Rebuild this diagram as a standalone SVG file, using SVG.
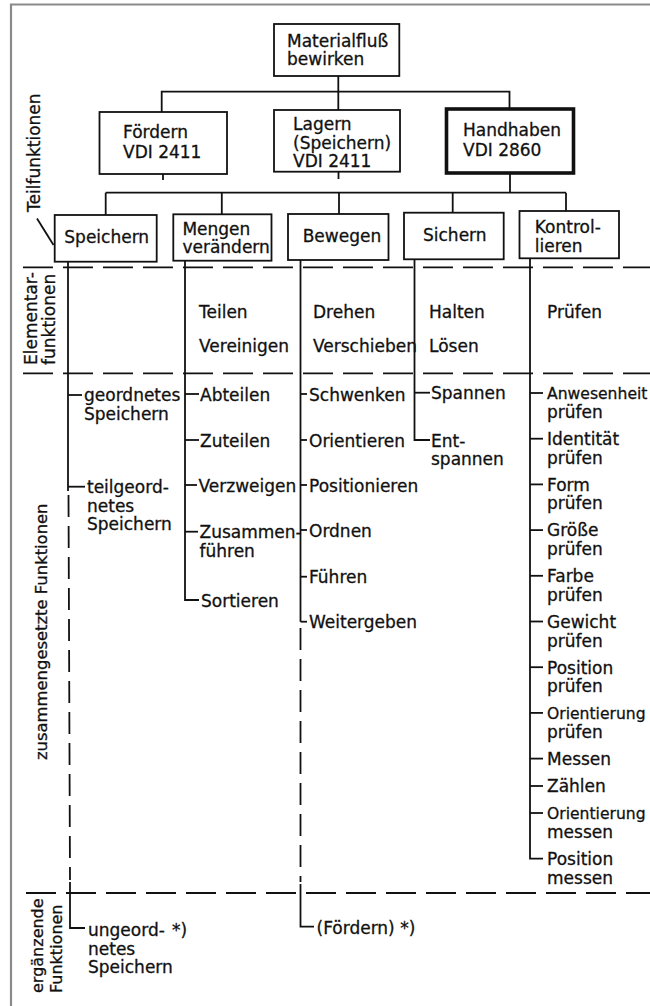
<svg xmlns="http://www.w3.org/2000/svg" width="650" height="1006" viewBox="0 0 650 1006">
  <style>
    text { font-family: "DejaVu Sans", "Liberation Sans", sans-serif; font-size: 17px; fill: #111; stroke: #111; stroke-width: 0.3; }
    .box { fill: #fff; stroke: #111; stroke-width: 1.8; }
    .thick { stroke-width: 3.6; }
    .ln { fill: none; stroke: #111; stroke-width: 1.8; }
    .dh { fill: none; stroke: #111; stroke-width: 1.8; stroke-dasharray: 30 10; }
    .dv { fill: none; stroke: #111; stroke-width: 1.8; stroke-dasharray: 22 9; }
    .frame { fill: none; stroke: #8a8a8a; stroke-width: 2.2; }
    .side { font-size: 17px; }
    .long { font-size: 15.6px; }
  </style>

  <rect width="650" height="1006" fill="#fff"/>
  <path class="frame" d="M11,1006 V4.5 H650"/>

  <!-- zone separators -->
  <g id="zones">
    <line class="dh" x1="23" y1="267.3" x2="650" y2="267.3"/>
    <line class="dh" x1="23" y1="373.3" x2="650" y2="373.3"/>
    <line class="dh" x1="26" y1="893" x2="650" y2="893"/>
  </g>

  <!-- row labels -->
  <g id="row-labels">
    <text class="side" transform="translate(39.5,212) rotate(-90)">Teilfunktionen</text>
    <line class="ln" x1="37" y1="218.5" x2="53.5" y2="245" stroke-width="1.4"/>
    <text class="side" transform="translate(37.3,365) rotate(-90)">Elementar-</text>
    <text class="side" transform="translate(55,365) rotate(-90)">funktionen</text>
    <text class="side" style="font-size:16.4px" transform="translate(46.7,760) rotate(-90)">zusammengesetzte Funktionen</text>
    <text class="side" style="font-size:16px" transform="translate(42.7,993) rotate(-90)">ergänzende</text>
    <text class="side" style="font-size:16px" transform="translate(61.7,993) rotate(-90)">Funktionen</text>
  </g>

  <!-- connectors -->
  <g id="connectors">
    <!-- tree -->
    <line class="ln" x1="338.3" y1="76" x2="338.3" y2="110"/>
    <path class="ln" d="M161.7,112 V91.7 H509.5 V109"/>
    <line class="ln" x1="163" y1="174" x2="163" y2="180"/>
    <line class="ln" x1="338.5" y1="171.7" x2="338.5" y2="179"/>
    <line class="ln" x1="510" y1="173" x2="510" y2="192.7"/>
    <line class="ln" x1="105.7" y1="192.7" x2="566" y2="192.7"/>
    <line class="ln" x1="105.7" y1="192.7" x2="105.7" y2="215"/>
    <line class="ln" x1="221.8" y1="192.7" x2="221.8" y2="214.3"/>
    <line class="ln" x1="339" y1="192.7" x2="339" y2="214"/>
    <line class="ln" x1="452.7" y1="192.7" x2="452.7" y2="212.7"/>
    <line class="ln" x1="566" y1="192.7" x2="566" y2="211"/>

    <!-- Speichern column -->
    <line class="ln" x1="68" y1="261.7" x2="68" y2="491"/>
    <line class="ln" x1="68" y1="395" x2="82" y2="395"/>
    <line class="ln" x1="68" y1="486.7" x2="85" y2="486.7"/>
    <line class="dv" x1="68.5" y1="495" x2="70" y2="880"/>
    <path class="ln" d="M70,882 V928 H85"/>

    <!-- Mengen verändern column -->
    <path class="ln" d="M185,260.7 V600 H199"/>
    <line class="ln" x1="185" y1="394" x2="199" y2="394"/>
    <line class="ln" x1="185" y1="440" x2="199" y2="440"/>
    <line class="ln" x1="185" y1="485" x2="197" y2="485"/>
    <line class="ln" x1="185" y1="531.7" x2="198" y2="531.7"/>

    <!-- Bewegen column -->
    <line class="ln" x1="300.5" y1="260" x2="300.5" y2="621.7"/>
    <line class="ln" x1="300.5" y1="394" x2="307" y2="394"/>
    <line class="ln" x1="300.5" y1="440" x2="307" y2="440"/>
    <line class="ln" x1="300.5" y1="485" x2="307" y2="485"/>
    <line class="ln" x1="300.5" y1="530" x2="307" y2="530"/>
    <line class="ln" x1="300.5" y1="576.7" x2="307" y2="576.7"/>
    <line class="ln" x1="300.5" y1="621.7" x2="307" y2="621.7"/>
    <line class="dv" x1="300.5" y1="628" x2="300.5" y2="882"/>
    <path class="ln" d="M300.5,884 V926.7 H314"/>

    <!-- Sichern column -->
    <path class="ln" d="M414.5,259.3 V440 H430"/>
    <line class="ln" x1="414.5" y1="392.7" x2="430" y2="392.7"/>

    <!-- Kontrollieren column -->
    <path class="ln" d="M530,258.3 V858.7 H543"/>
    <line class="ln" x1="530" y1="393" x2="543" y2="393"/>
    <line class="ln" x1="530" y1="438.7" x2="543" y2="438.7"/>
    <line class="ln" x1="530" y1="484.4" x2="543" y2="484.4"/>
    <line class="ln" x1="530" y1="530.1" x2="543" y2="530.1"/>
    <line class="ln" x1="530" y1="575.8" x2="543" y2="575.8"/>
    <line class="ln" x1="530" y1="621.5" x2="543" y2="621.5"/>
    <line class="ln" x1="530" y1="667.2" x2="543" y2="667.2"/>
    <line class="ln" x1="530" y1="712.9" x2="543" y2="712.9"/>
    <line class="ln" x1="530" y1="758.6" x2="543" y2="758.6"/>
    <line class="ln" x1="530" y1="786" x2="543" y2="786"/>
    <line class="ln" x1="530" y1="813" x2="543" y2="813"/>
  </g>

  <!-- main function -->
  <g id="materialfluss">
    <rect class="box" x="274" y="24" width="125.3" height="52"/>
    <text x="287" y="46.7">Materialfluß<tspan x="287" dy="18.3">bewirken</tspan></text>
  </g>

  <!-- sub-functions -->
  <g id="foerdern">
    <rect class="box" x="99.5" y="112" width="127.5" height="62"/>
    <text x="123" y="138">Fördern<tspan x="123" dy="20">VDI 2411</tspan></text>
  </g>
  <g id="lagern">
    <rect class="box" x="274" y="110" width="126" height="61.7"/>
    <text x="293" y="130">Lagern<tspan x="293" dy="18.5">(Speichern)</tspan><tspan x="293" dy="18.5">VDI 2411</tspan></text>
  </g>
  <g id="handhaben">
    <rect class="box thick" x="446.5" y="109" width="127" height="64"/>
    <text x="463" y="136">Handhaben<tspan x="463" dy="20">VDI 2860</tspan></text>
  </g>

  <!-- handling functions -->
  <g id="speichern">
    <rect class="box" x="54.7" y="215" width="102" height="46.7"/>
    <text x="64.3" y="243">Speichern</text>
  </g>
  <g id="mengen-veraendern">
    <rect class="box" x="173.3" y="214.3" width="98.2" height="46.4"/>
    <text x="182.4" y="234.5">Mengen<tspan x="182.4" dy="18.7">verändern</tspan></text>
  </g>
  <g id="bewegen">
    <rect class="box" x="288" y="214" width="100.5" height="46"/>
    <text x="302.7" y="242">Bewegen</text>
  </g>
  <g id="sichern">
    <rect class="box" x="404" y="212.7" width="99.7" height="46.6"/>
    <text x="423" y="241">Sichern</text>
  </g>
  <g id="kontrollieren">
    <rect class="box" x="519.5" y="211" width="99.5" height="47.3"/>
    <text x="534.8" y="232.7">Kontrol-<tspan x="534.8" dy="19">lieren</tspan></text>
  </g>

  <!-- elementary functions -->
  <g id="elementar-mengen">
    <text x="199" y="318">Teilen<tspan x="199" dy="33.5">Vereinigen</tspan></text>
  </g>
  <g id="elementar-bewegen">
    <text x="313" y="318">Drehen<tspan x="313" dy="33.5">Verschieben</tspan></text>
  </g>
  <g id="elementar-sichern">
    <text x="429" y="318">Halten<tspan x="429" dy="33.5">Lösen</tspan></text>
  </g>
  <g id="elementar-kontrollieren">
    <text x="547" y="318">Prüfen</text>
  </g>

  <!-- composite functions: Speichern -->
  <g id="geordnetes-speichern">
    <text x="84" y="401">geordnetes<tspan x="84" dy="18.5">Speichern</tspan></text>
  </g>
  <g id="teilgeordnetes-speichern">
    <text x="87" y="493">teilgeord-<tspan x="87" dy="18.5">netes</tspan><tspan x="87" dy="18.5">Speichern</tspan></text>
  </g>

  <!-- composite functions: Mengen verändern -->
  <g id="abteilen"><text x="200" y="400.5">Abteilen</text></g>
  <g id="zuteilen"><text x="200" y="446.5">Zuteilen</text></g>
  <g id="verzweigen"><text x="198.5" y="491.5">Verzweigen</text></g>
  <g id="zusammenfuehren"><text x="199.5" y="538">Zusammen-<tspan x="199.5" dy="18.5">führen</tspan></text></g>
  <g id="sortieren"><text x="201" y="606.5">Sortieren</text></g>

  <!-- composite functions: Bewegen -->
  <g id="schwenken"><text x="309" y="400.5">Schwenken</text></g>
  <g id="orientieren"><text x="309" y="446.5">Orientieren</text></g>
  <g id="positionieren"><text x="309" y="491.5">Positionieren</text></g>
  <g id="ordnen"><text x="309" y="536.5">Ordnen</text></g>
  <g id="fuehren"><text x="309" y="583">Führen</text></g>
  <g id="weitergeben"><text x="309" y="628">Weitergeben</text></g>

  <!-- composite functions: Sichern -->
  <g id="spannen"><text x="431" y="399">Spannen</text></g>
  <g id="entspannen"><text x="431" y="446.5">Ent-<tspan x="431" dy="18.5">spannen</tspan></text></g>

  <!-- composite functions: Kontrollieren (long words set a little smaller to stay on the sheet) -->
  <g id="anwesenheit"><text x="547" y="399.3"><tspan class="long">Anwesenheit</tspan><tspan x="547" dy="18.7">prüfen</tspan></text></g>
  <g id="identitaet"><text x="547" y="445">Identität<tspan x="547" dy="18.7">prüfen</tspan></text></g>
  <g id="form"><text x="547" y="490.7">Form<tspan x="547" dy="18.7">prüfen</tspan></text></g>
  <g id="groesse"><text x="547" y="536.4">Größe<tspan x="547" dy="18.7">prüfen</tspan></text></g>
  <g id="farbe"><text x="547" y="582.1">Farbe<tspan x="547" dy="18.7">prüfen</tspan></text></g>
  <g id="gewicht"><text x="547" y="627.8">Gewicht<tspan x="547" dy="18.7">prüfen</tspan></text></g>
  <g id="position-pruefen"><text x="547" y="673.5">Position<tspan x="547" dy="18.7">prüfen</tspan></text></g>
  <g id="orientierung-pruefen"><text x="547" y="719.2"><tspan class="long">Orientierung</tspan><tspan x="547" dy="18.7">prüfen</tspan></text></g>
  <g id="messen"><text x="547" y="764.9">Messen</text></g>
  <g id="zaehlen"><text x="547" y="792.3">Zählen</text></g>
  <g id="orientierung-messen"><text x="547" y="819.3"><tspan class="long">Orientierung</tspan><tspan x="547" dy="18.7">messen</tspan></text></g>
  <g id="position-messen"><text x="547" y="865">Position<tspan x="547" dy="18.7">messen</tspan></text></g>

  <!-- supplementary functions -->
  <g id="ungeordnetes-speichern">
    <text x="88" y="936">ungeord-<tspan x="88" dy="18.7">netes</tspan><tspan x="88" dy="18.7">Speichern</tspan></text>
    <text x="172" y="936">*)</text>
  </g>
  <g id="foerdern-ergaenzend">
    <text x="316.5" y="934">(Fördern) *)</text>
  </g>
</svg>
